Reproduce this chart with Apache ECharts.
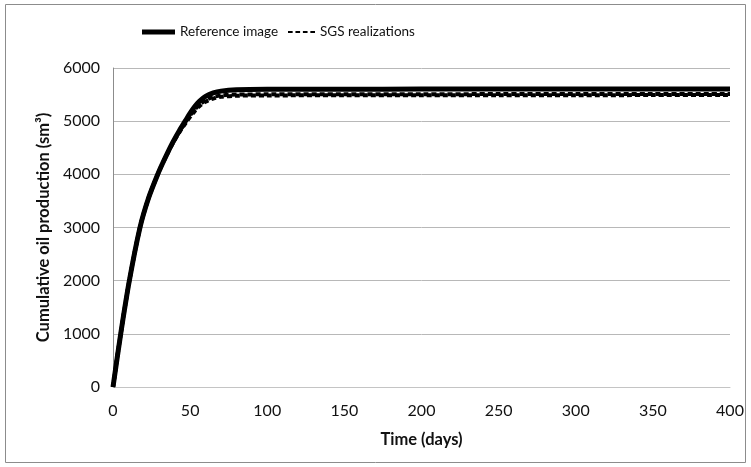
<!DOCTYPE html>
<html>
<head>
<meta charset="utf-8">
<script src="https://cdn.jsdelivr.net/npm/echarts@6/dist/echarts.min.js"></script>
<style>
  html, body { margin: 0; padding: 0; background: #fff; }
  #chart { width: 751px; height: 467px; }
</style>
</head>
<body>
<div id="chart"></div>
<script>
// Time axis (days) and cumulative oil production (sm3)
const refDays = [0, 5, 10.6, 17.5, 23, 29, 33, 38, 43, 47, 50, 53, 56, 60, 65, 70, 80, 100, 150, 200, 250, 300, 350, 400];
const refOil  = [0, 1000, 2000, 3000, 3550, 4000, 4260, 4560, 4820, 5010, 5150, 5275, 5375, 5465, 5530, 5565, 5590, 5600, 5602, 5603, 5604, 5605, 5606, 5607];

const sgsDays = [0, 5, 10.6, 17.5, 23, 29, 33, 38, 43, 47, 50, 53, 56, 60, 65, 70, 80, 100, 150, 200, 250, 300, 350, 400];
const sgsOilA = [0, 1000, 2000, 3000, 3550, 4000, 4255, 4545, 4790, 4960, 5080, 5190, 5280, 5365, 5425, 5458, 5478, 5484, 5486, 5487, 5488, 5489, 5490, 5490];
const sgsOilB = [0, 1000, 2000, 3000, 3550, 4000, 4258, 4552, 4805, 4985, 5110, 5220, 5310, 5395, 5455, 5485, 5500, 5505, 5507, 5508, 5509, 5510, 5510, 5510];

const xTicks = { min: 0, max: 400, step: 50 };
const yTicks = { min: 0, max: 6000, step: 1000 };

const seriesNames = ['Reference image', 'SGS realizations'];

const pairs = (xs, ys) => xs.map((x, i) => [x, ys[i]]);

const chart = echarts.init(document.getElementById('chart'), null, { renderer: 'canvas' });
const font = 'Lato, "Open Sans", sans-serif';
const legendText = { fontFamily: font, fontSize: 13.5, color: '#111' };

chart.setOption({
  animation: false,
  backgroundColor: '#fff',
  graphic: [{
    type: 'rect',
    shape: { x: 5.5, y: 4.5, width: 740, height: 458 },
    style: { fill: 'none', stroke: '#8c8c8c', lineWidth: 1 },
    silent: true
  }],
  legend: [
    {
      top: 20, left: 137,
      itemWidth: 33, itemHeight: 5, itemGap: 0,
      icon: 'rect',
      textStyle: legendText,
      data: [{ name: seriesNames[0], itemStyle: { color: '#000' } }]
    },
    {
      top: 20, left: 283,
      itemWidth: 27, itemHeight: 2, itemGap: 0,
      icon: 'path://M0,0h5v2h-5zM8,0h5v2h-5zM16,0h5v2h-5zM24,0h5v2h-5z',
      textStyle: legendText,
      data: [{ name: seriesNames[1], itemStyle: { color: '#000' } }]
    }
  ],
  grid: { left: 113, right: 21, top: 68, bottom: 80 },
  xAxis: {
    type: 'value',
    min: xTicks.min, max: xTicks.max, interval: xTicks.step,
    name: 'Time (days)',
    nameLocation: 'middle',
    nameGap: 44,
    nameTextStyle: { fontFamily: font, fontSize: 16.5, fontWeight: 'bold', color: '#111' },
    axisLine: { show: true, lineStyle: { color: '#c4c4c4', width: 1 } },
    axisTick: { show: false },
    splitLine: { show: false },
    axisLabel: { fontFamily: font, fontSize: 16, color: '#111', margin: 16 }
  },
  yAxis: {
    type: 'value',
    min: yTicks.min, max: yTicks.max, interval: yTicks.step,
    name: 'Cumulative oil production (sm\u00B3)',
    nameLocation: 'middle',
    nameGap: 55,
    nameTextStyle: { fontFamily: font, fontSize: 16.5, fontWeight: 'bold', color: '#111' },
    axisLine: { show: true, lineStyle: { color: '#8c8c8c', width: 1 } },
    axisTick: { show: false },
    splitLine: { show: true, lineStyle: { color: '#b8b8b8', width: 1 } },
    axisLabel: { fontFamily: font, fontSize: 16, color: '#111', margin: 13, formatter: v => String(v) }
  },
  series: [
    {
      name: seriesNames[1], type: 'line', smooth: 0.3, symbol: 'none', z: 2,
      lineStyle: { color: '#000', width: 4, type: [5, 3] },
      data: pairs(sgsDays, sgsOilA)
    },
    {
      name: seriesNames[1], type: 'line', smooth: 0.3, symbol: 'none', z: 2,
      lineStyle: { color: '#000', width: 4, type: [5, 3], dashOffset: 2 },
      data: pairs(sgsDays, sgsOilB)
    },
    {
      name: seriesNames[0], type: 'line', smooth: 0.3, symbol: 'none', z: 3,
      lineStyle: { color: '#000', width: 5 },
      data: pairs(refDays, refOil)
    }
  ]
});
</script>
</body>
</html>
